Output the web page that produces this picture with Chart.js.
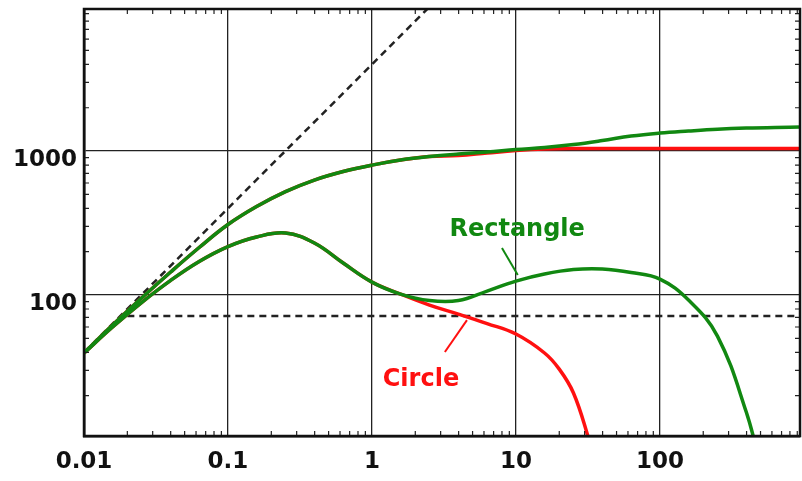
<!DOCTYPE html>
<html lang="en">
<head>
<meta charset="UTF-8">
<title>Rectangle vs Circle</title>
<script src="https://cdn.jsdelivr.net/npm/chart.js"></script>
<style>
    html, body { margin: 0; padding: 0; background: #fff; }
    #wrap { width: 802px; height: 481px; }
</style>
</head>
<body>
<div id="wrap"><canvas id="myChart"></canvas></div>
<script>
// upper curves, sampled every 0.2 decade
const upperX     = [0.01, 0.0158, 0.0251, 0.0398, 0.0631, 0.1, 0.158, 0.251, 0.398, 0.631, 1, 1.58, 2.51, 3.98, 6.31, 10, 15.8, 25.1, 39.8, 63.1, 100, 158, 251, 398, 631, 1000];
const rectUpperY = [39.6, 61.9, 95.3, 144, 214, 309, 412, 523, 629, 721, 799, 866, 916, 953, 984, 1024, 1058, 1110, 1183, 1271, 1333, 1377, 1417, 1444, 1460, 1468];
const circUpperY = [39.6, 61.9, 95.3, 144, 214, 309, 412, 523, 629, 721, 799, 866, 916, 930, 969, 1008, 1033, 1041, 1041, 1041, 1041, 1041, 1041, 1041, 1041, 1041];

// lower curves
const rectLowerX = [0.01, 0.0158, 0.0251, 0.0398, 0.0631, 0.1, 0.158, 0.251, 0.398, 0.631, 1, 1.58, 2.51, 3.98, 6.31, 10, 15.8, 25.1, 39.8, 63.1, 100, 158, 251, 398, 501];
const rectLowerY = [39.6, 60, 88.7, 126, 171, 217, 253, 269.5, 229.7, 166.8, 123, 101.6, 91.6, 91.6, 106.6, 125, 140, 150.3, 151.6, 143.3, 129, 92.3, 51.9, 15.4, 6.5];
const circLowerX = [0.01, 0.0158, 0.0251, 0.0398, 0.0631, 0.1, 0.158, 0.251, 0.398, 0.631, 1, 1.58, 2.51, 3.98, 6.31, 10, 15.8, 20, 25.1, 31.6, 35.5];
const circLowerY = [39.6, 60, 88.7, 126, 171, 217, 253, 269.5, 229.7, 166.8, 123, 101.6, 85.2, 73.8, 63.4, 53.6, 39.6, 30.6, 20.9, 10.5, 6.8];

// reference lines
const slopeX = [0.01, 3];
const slopeY = [40, 12000];
const flatX  = [0.02, 1000];
const flatY  = [71.5, 71.5];

// callout leaders and names
const rectLeaderX = [8.0, 10.3];
const rectLeaderY = [212, 138];
const circLeaderX = [3.21, 4.57];
const circLeaderY = [40.2, 67];
const callouts = [
    { text: 'Rectangle', x: 10.2, y: 283, color: '#118811' },
    { text: 'Circle',    x: 2.19, y: 25.7, color: '#ff1010' }
];

// axes
const xTicks = [0.01, 0.1, 1, 10, 100];
const yTicks = [100, 1000];

const GREEN = '#118811';
const RED = '#ff1010';

const pts = (xa, ya) => xa.map((x, i) => ({ x: x, y: ya[i] }));

function curve(data, color, order) {
    return {
        data: data,
        borderColor: color,
        borderWidth: 3.5,
        pointRadius: 0,
        fill: false,
        tension: 0.4,
        order: order
    };
}

function dashed(data) {
    return {
        data: data,
        borderColor: '#222',
        borderWidth: 2.5,
        borderDash: [7, 5],
        pointRadius: 0,
        fill: false,
        tension: 0,
        order: 5
    };
}

function leader(data, color) {
    return {
        data: data,
        borderColor: color,
        borderWidth: 2,
        pointRadius: 0,
        fill: false,
        tension: 0,
        order: 0
    };
}

// frame on all four sides plus the small log ticks pointing inwards
const frameTicks = {
    id: 'frameTicks',
    afterDraw(chart) {
        const { ctx, chartArea: a, scales } = chart;
        ctx.save();
        ctx.strokeStyle = '#222';
        ctx.lineWidth = 1.2;
        ctx.beginPath();
        for (let n = -2; n <= 3; n++) {
            for (let m = 2; m <= 9; m++) {
                const v = m * Math.pow(10, n);
                if (v < scales.x.min || v > scales.x.max) continue;
                const px = scales.x.getPixelForValue(v);
                ctx.moveTo(px, a.bottom); ctx.lineTo(px, a.bottom - 5);
                ctx.moveTo(px, a.top);    ctx.lineTo(px, a.top + 5);
            }
        }
        for (let n = 1; n <= 3; n++) {
            for (let m = 2; m <= 9; m++) {
                const v = m * Math.pow(10, n);
                if (v < scales.y.min || v > scales.y.max) continue;
                const py = scales.y.getPixelForValue(v);
                ctx.moveTo(a.left, py);  ctx.lineTo(a.left + 5, py);
                ctx.moveTo(a.right, py); ctx.lineTo(a.right - 5, py);
            }
        }
        ctx.stroke();
        ctx.strokeStyle = '#111';
        ctx.lineWidth = 2.5;
        ctx.strokeRect(a.left, a.top, a.right - a.left, a.bottom - a.top);
        ctx.restore();
    }
};

// curve names
const calloutText = {
    id: 'calloutText',
    afterDatasetsDraw(chart) {
        const { ctx, scales } = chart;
        ctx.save();
        ctx.font = 'bold 24px "DejaVu Sans"';
        ctx.textAlign = 'center';
        ctx.textBaseline = 'middle';
        callouts.forEach(c => {
            ctx.fillStyle = c.color;
            ctx.fillText(c.text, scales.x.getPixelForValue(c.x), scales.y.getPixelForValue(c.y));
        });
        ctx.restore();
    }
};

const tickFont = { family: 'DejaVu Sans', weight: 'bold', size: 23 };

new Chart(document.getElementById('myChart'), {
    type: 'line',
    data: {
        datasets: [
            curve(pts(upperX, circUpperY), RED, 2),
            curve(pts(circLowerX, circLowerY), RED, 2),
            curve(pts(upperX, rectUpperY), GREEN, 1),
            curve(pts(rectLowerX, rectLowerY), GREEN, 1),
            dashed(pts(slopeX, slopeY)),
            dashed(pts(flatX, flatY)),
            leader(pts(rectLeaderX, rectLeaderY), GREEN),
            leader(pts(circLeaderX, circLeaderY), RED)
        ]
    },
    options: {
        responsive: true,
        maintainAspectRatio: false,
        animation: false,
        layout: { padding: { top: 9, right: 2, left: 0, bottom: 0 } },
        plugins: { legend: { display: false }, tooltip: { enabled: false } },
        scales: {
            x: {
                type: 'logarithmic',
                min: 0.01,
                max: 940,
                afterBuildTicks: s => { s.ticks = xTicks.map(v => ({ value: v })); },
                afterFit: s => { s.height = 45; s.paddingLeft = 0; s.paddingRight = 0; },
                grid: { color: '#222', lineWidth: 1.3, drawTicks: false },
                border: { color: '#111', width: 2.5 },
                ticks: {
                    padding: 12,
                    color: '#111',
                    font: tickFont,
                    autoSkip: false,
                    maxRotation: 0,
                    callback: v => String(v)
                }
            },
            y: {
                type: 'logarithmic',
                min: 10.5,
                max: 9700,
                afterBuildTicks: s => { s.ticks = yTicks.map(v => ({ value: v })); },
                afterFit: s => { s.width = 84; s.paddingTop = 0; s.paddingBottom = 0; },
                grid: { color: '#222', lineWidth: 1.3, drawTicks: false },
                border: { color: '#111', width: 2.5 },
                ticks: {
                    padding: 7,
                    labelOffset: 9,
                    color: '#111',
                    font: tickFont,
                    autoSkip: false,
                    callback: v => String(v)
                }
            }
        }
    },
    plugins: [frameTicks, calloutText]
});
</script>
</body>
</html>
